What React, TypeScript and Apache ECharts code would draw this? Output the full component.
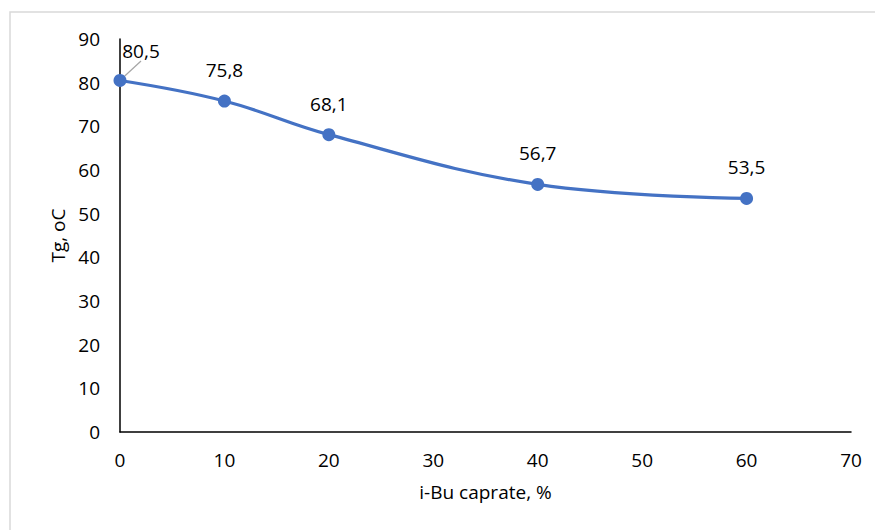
import React, { useEffect, useRef } from "react";
import * as echarts from "echarts";

const xValues = [0, 10, 20, 40, 60];
const tgValues = [80.5, 75.8, 68.1, 56.7, 53.5];
const xAxisName = "i-Bu caprate, %";
const yAxisName = "Tg, oC";

const FONT = "Open Sans, Calibri, sans-serif";
const FS = 19;

export default function App() {
  const ref = useRef<HTMLDivElement>(null);
  useEffect(() => {
    document.body.style.margin = "0";
    const chart = echarts.init(ref.current!, null, { renderer: "svg" });
    const data = xValues.map((x, i) =>
      i === 0
        ? {
            value: [x, tgValues[i]],
            labelLine: { show: true, lineStyle: { color: "#a6a6a6", width: 1.2 } },
          }
        : { value: [x, tgValues[i]] }
    );
    chart.setOption({
      animation: false,
      backgroundColor: "#ffffff",
      textStyle: { fontFamily: FONT },
      graphic: [
        {
          type: "rect",
          shape: { x: 10, y: 12, width: 900, height: 560 },
          style: { fill: "none", stroke: "#d9d9d9", lineWidth: 1.5 },
          silent: true,
        },
      ],
      grid: { left: 120, right: 24, top: 39, bottom: 98 },
      xAxis: {
        type: "value",
        min: 0,
        max: 70,
        interval: 10,
        name: xAxisName,
        nameLocation: "middle",
        nameGap: 50,
        nameTextStyle: { fontSize: FS, color: "#000", fontFamily: FONT },
        axisLine: { show: true, lineStyle: { color: "#000", width: 1.5 } },
        axisTick: { show: false },
        splitLine: { show: false },
        axisLabel: { fontSize: FS, color: "#000", margin: 18, fontFamily: FONT },
      },
      yAxis: {
        type: "value",
        min: 0,
        max: 90,
        interval: 10,
        name: yAxisName,
        nameLocation: "middle",
        nameGap: 49,
        nameRotate: 90,
        nameTextStyle: { fontSize: FS, color: "#000", fontFamily: FONT },
        axisLine: { show: true, lineStyle: { color: "#000", width: 1.5 } },
        axisTick: { show: false },
        splitLine: { show: false },
        axisLabel: { fontSize: FS, color: "#000", margin: 20, fontFamily: FONT },
      },
      series: [
        {
          type: "line",
          data,
          smooth: 0.4,
          symbol: "circle",
          symbolSize: 13,
          itemStyle: { color: "#4472C4" },
          lineStyle: { color: "#4472C4", width: 3.2 },
          label: {
            show: true,
            position: "top",
            distance: 15,
            fontSize: FS,
            color: "#000",
            fontFamily: FONT,
            formatter: (p: any) => String(p.value[1]).replace(".", ","),
          },
          labelLayout: (params: any) =>
            params.dataIndex === 0 ? { dx: 21, dy: 2 } : {},
        },
      ],
    });
    return () => chart.dispose();
  }, []);
  return <div ref={ref} style={{ width: 875, height: 530 }} />;
}
